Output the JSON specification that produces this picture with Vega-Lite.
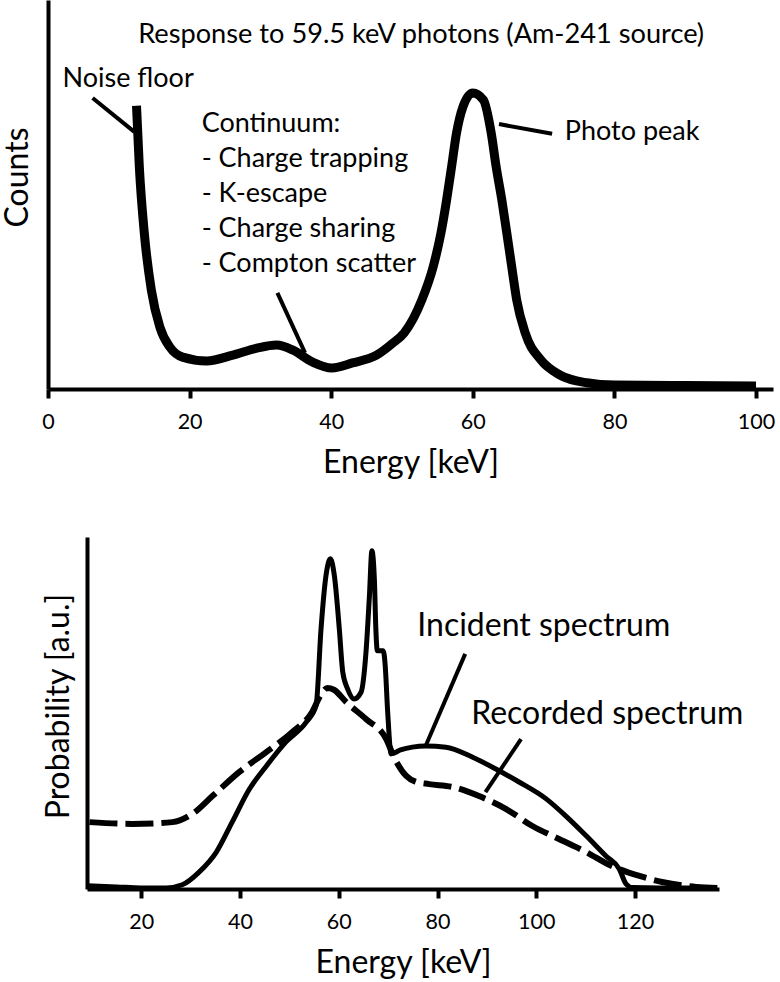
{
  "$schema": "https://vega.github.io/schema/vega-lite/v6.json",
  "padding": {"left": 0, "top": 0, "right": 0, "bottom": 0},
  "spacing": 58,
  "config": {
    "font": "Lato",
    "view": {"stroke": null},
    "axis": {
      "grid": false,
      "domainColor": "black",
      "domainWidth": 4,
      "tickColor": "black",
      "tickWidth": 4,
      "tickSize": 9,
      "labelFont": "Lato",
      "labelFontSize": 21.5,
      "labelColor": "black",
      "labelPadding": 13,
      "labelFlush": false,
      "labelOverlap": false,
      "titleFont": "Lato",
      "titleFontSize": 32,
      "titleFontWeight": "normal",
      "titleColor": "black",
      "titlePadding": 15
    },
    "text": {"font": "Lato", "color": "black"}
  },
  "datasets": {
    "response": [
      {"e": 12.5, "c": 72.8}, {"e": 12.9, "c": 57.1}, {"e": 13.6, "c": 40.1}, {"e": 14.6, "c": 25.4},
      {"e": 15.8, "c": 15.9}, {"e": 17.2, "c": 10.8}, {"e": 19.0, "c": 8.2}, {"e": 22.4, "c": 7.2},
      {"e": 26.1, "c": 8.7}, {"e": 29.5, "c": 10.5}, {"e": 32.3, "c": 11.3}, {"e": 34.6, "c": 10.0},
      {"e": 37.4, "c": 6.9}, {"e": 40.1, "c": 5.4}, {"e": 43.0, "c": 6.7}, {"e": 46.4, "c": 8.7},
      {"e": 48.7, "c": 11.8}, {"e": 50.3, "c": 14.4}, {"e": 52.8, "c": 22.9}, {"e": 54.4, "c": 31.4},
      {"e": 55.5, "c": 40.1}, {"e": 56.3, "c": 48.6}, {"e": 57.0, "c": 57.1}, {"e": 57.7, "c": 65.8},
      {"e": 58.6, "c": 72.5}, {"e": 60.0, "c": 76.1}, {"e": 61.5, "c": 74.3}, {"e": 62.6, "c": 65.8},
      {"e": 63.3, "c": 57.1}, {"e": 64.1, "c": 48.6}, {"e": 64.8, "c": 40.1}, {"e": 65.5, "c": 31.4},
      {"e": 66.2, "c": 22.9}, {"e": 67.4, "c": 14.4}, {"e": 69.6, "c": 7.5}, {"e": 72.3, "c": 3.6},
      {"e": 76.1, "c": 1.6}, {"e": 80, "c": 1.0}, {"e": 90, "c": 0.9}, {"e": 100, "c": 0.8}
    ],
    "topLabels": [
      {"e": 2.05, "c": 77.6, "t": "Noise floor"},
      {"e": 21.7, "c": 66.1, "t": "Continuum:"},
      {"e": 21.7, "c": 57.1, "t": "- Charge trapping"},
      {"e": 21.7, "c": 48.1, "t": "- K-escape"},
      {"e": 21.7, "c": 39.1, "t": "- Charge sharing"},
      {"e": 21.7, "c": 30.1, "t": "- Compton scatter"},
      {"e": 73.0, "c": 64.0, "t": "Photo peak"}
    ],
    "topTitle": [
      {"e": 52.7, "c": 88.9, "t": "Response to 59.5 keV photons (Am-241 source)"}
    ],
    "topLeaders": [
      {"e": 6.3, "c": 74.8, "e2": 12.2, "c2": 66.1},
      {"e": 32.4, "c": 24.7, "e2": 36.3, "c2": 9.3},
      {"e": 63.7, "c": 68.1, "e2": 71.2, "c2": 65.6}
    ],
    "incident": [
      {"e": 9.1, "p": 0.9}, {"e": 15, "p": 0.6}, {"e": 20, "p": 0.3}, {"e": 25, "p": 0.3},
      {"e": 28.3, "p": 1.2}, {"e": 31.7, "p": 4.8}, {"e": 35.2, "p": 10.5}, {"e": 38.4, "p": 19.0},
      {"e": 41.9, "p": 28.4}, {"e": 45.3, "p": 34.9}, {"e": 49.3, "p": 41.8}, {"e": 53.4, "p": 47.4},
      {"e": 55.4, "p": 52.1}, {"e": 56.4, "p": 73.9}, {"e": 57.4, "p": 89.0}, {"e": 58.3, "p": 93.8},
      {"e": 59.1, "p": 89.0}, {"e": 60.1, "p": 73.9}, {"e": 60.8, "p": 61.6}, {"e": 61.8, "p": 56.8},
      {"e": 63.1, "p": 54.0}, {"e": 64.5, "p": 55.9}, {"e": 65.5, "p": 67.2}, {"e": 66.2, "p": 83.3},
      {"e": 66.7, "p": 96.1}, {"e": 67.2, "p": 88.1}, {"e": 67.5, "p": 73.9}, {"e": 67.8, "p": 67.7},
      {"e": 69.0, "p": 67.7}, {"e": 69.4, "p": 63.4}, {"e": 69.9, "p": 50.2}, {"e": 70.6, "p": 38.4},
      {"e": 72.5, "p": 39.5}, {"e": 74.9, "p": 40.3}, {"e": 77.6, "p": 40.6}, {"e": 81.7, "p": 40.3},
      {"e": 87.0, "p": 37.5}, {"e": 91.8, "p": 34.1}, {"e": 96.5, "p": 30.4}, {"e": 102.0, "p": 25.6},
      {"e": 106.0, "p": 20.7}, {"e": 110.1, "p": 15.1}, {"e": 114.1, "p": 9.4}, {"e": 116.8, "p": 5.7},
      {"e": 118.2, "p": 1.4}, {"e": 119.5, "p": 0.4}, {"e": 125, "p": 0.3}, {"e": 135.6, "p": 0.3}
    ],
    "recorded": [
      {"e": 9.5, "p": 19.0}, {"e": 18.2, "p": 18.5}, {"e": 26.3, "p": 19.0}, {"e": 30.3, "p": 21.3},
      {"e": 34.4, "p": 26.4}, {"e": 39.8, "p": 33.2}, {"e": 45.3, "p": 38.9}, {"e": 50.6, "p": 44.6},
      {"e": 54.6, "p": 50.3}, {"e": 56.5, "p": 55.5}, {"e": 57.7, "p": 57.1}, {"e": 59.0, "p": 56.6},
      {"e": 61.5, "p": 53.1}, {"e": 65.5, "p": 48.3}, {"e": 69.6, "p": 42.6}, {"e": 71.2, "p": 37.4},
      {"e": 73.6, "p": 32.2}, {"e": 75.5, "p": 30.5}, {"e": 78.3, "p": 29.8}, {"e": 83.0, "p": 29.0},
      {"e": 88.4, "p": 26.4}, {"e": 93.9, "p": 22.7}, {"e": 99.2, "p": 17.9}, {"e": 104.6, "p": 14.2},
      {"e": 110.1, "p": 10.5}, {"e": 115.3, "p": 6.5}, {"e": 120.9, "p": 3.7}, {"e": 125.5, "p": 2.0},
      {"e": 132.4, "p": 0.6}, {"e": 137, "p": 0.3}
    ],
    "bottomLabels": [
      {"e": 75.9, "p": 71.9, "t": "Incident spectrum"},
      {"e": 86.8, "p": 46.9, "t": "Recorded spectrum"}
    ],
    "bottomLeaders": [
      {"e": 85.6, "p": 66.8, "e2": 77.6, "p2": 40.7},
      {"e": 96.9, "p": 42.6, "e2": 89.7, "p2": 27.5}
    ]
  },
  "vconcat": [
    {
      "spacing": 0,
      "hconcat": [
        {
          "width": 1,
          "height": 10,
          "data": {"values": [{}]},
          "mark": {"type": "point", "opacity": 0, "size": 0},
          "encoding": {}
        },
        {
          "width": 725,
          "height": 389,
          "encoding": {
            "x": {"field": "e", "type": "quantitative",
                  "scale": {"domain": [0, 102.4], "nice": false, "zero": false},
                  "axis": {"values": [0, 20, 40, 60, 80, 100], "title": "Energy [keV]"}},
            "y": {"field": "c", "type": "quantitative",
                  "scale": {"domain": [0, 100], "nice": false},
                  "axis": {"labels": false, "ticks": false, "title": "Counts", "titleY": 177, "titlePadding": 14}}
          },
          "layer": [
            {"data": {"name": "response"},
             "mark": {"type": "line", "color": "black", "strokeWidth": 9, "interpolate": "monotone"}},
            {"data": {"name": "topLeaders"},
             "mark": {"type": "rule", "color": "black", "strokeWidth": 4},
             "encoding": {"x2": {"field": "e2"}, "y2": {"field": "c2"}}},
            {"data": {"name": "topLabels"},
             "mark": {"type": "text", "align": "left", "baseline": "alphabetic", "fontSize": 27},
             "encoding": {"text": {"field": "t"}}},
            {"data": {"name": "topTitle"},
             "mark": {"type": "text", "align": "center", "baseline": "alphabetic", "fontSize": 27.2},
             "encoding": {"text": {"field": "t"}}}
          ]
        }
      ]
    },
    {
      "spacing": 0,
      "hconcat": [
        {
          "width": 41.5,
          "height": 10,
          "data": {"values": [{}]},
          "mark": {"type": "point", "opacity": 0, "size": 0},
          "encoding": {}
        },
        {
          "width": 632,
          "height": 352,
          "encoding": {
            "x": {"field": "e", "type": "quantitative",
                  "scale": {"domain": [9, 137], "nice": false, "zero": false},
                  "axis": {"values": [20, 40, 60, 80, 100, 120], "title": "Energy [keV]"}},
            "y": {"field": "p", "type": "quantitative",
                  "scale": {"domain": [0, 100], "nice": false},
                  "axis": {"labels": false, "ticks": false, "title": "Probability [a.u.]", "titleY": 169, "titlePadding": 12}}
          },
          "layer": [
            {"data": {"name": "recorded"},
             "mark": {"type": "line", "color": "black", "strokeWidth": 6, "strokeDash": [28, 8], "interpolate": "monotone"}},
            {"data": {"name": "incident"},
             "mark": {"type": "line", "color": "black", "strokeWidth": 5, "interpolate": "monotone"}},
            {"data": {"name": "bottomLeaders"},
             "mark": {"type": "rule", "color": "black", "strokeWidth": 4},
             "encoding": {"x2": {"field": "e2"}, "y2": {"field": "p2"}}},
            {"data": {"name": "bottomLabels"},
             "mark": {"type": "text", "align": "left", "baseline": "alphabetic", "fontSize": 32},
             "encoding": {"text": {"field": "t"}}}
          ]
        }
      ]
    }
  ]
}
